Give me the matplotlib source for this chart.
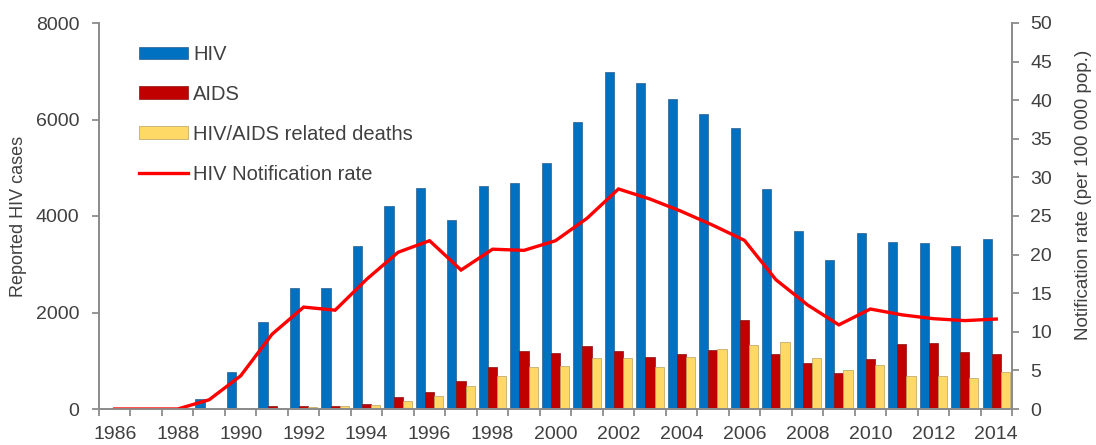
import matplotlib
matplotlib.use("Agg")
import matplotlib.pyplot as plt
import numpy as np

plt.rcParams['font.family'] = ['Liberation Sans', 'DejaVu Sans']

years = list(range(1986, 2015))

# reported HIV cases
hiv = [0, 0, 0, 200, 770, 1800, 2510, 2510, 3380, 4200, 4590, 3920, 4620, 4690,
       5090, 5940, 6980, 6760, 6420, 6110, 5820, 4560, 3690, 3080, 3650, 3470,
       3440, 3380, 3520]
aids = [0, 0, 0, 5, 15, 55, 70, 70, 100, 240, 350, 570, 870, 1200,
        1170, 1300, 1200, 1080, 1150, 1230, 1850, 1130, 950, 750, 1040, 1340,
        1360, 1190, 1150]
deaths = [0, 0, 0, 10, 10, 15, 45, 60, 80, 165, 270, 470, 680, 870,
          900, 1060, 1055, 880, 1080, 1250, 1330, 1380, 1050, 815, 910, 685,
          690, 650, 760]
# notification rate per 100 000
rate = [0, 0, 0, 1.2, 4.3, 9.7, 13.2, 12.8, 16.8, 20.3, 21.8, 18.0, 20.7, 20.55,
        21.8, 24.7, 28.5, 27.2, 25.6, 23.8, 21.85, 16.75, 13.5, 10.9, 12.95, 12.2,
        11.7, 11.45, 11.65]

TXT = '#404040'
SPINE = '#8c8c8c'
FS = 14

fig = plt.figure(figsize=(10.96, 4.45), dpi=100)
ax = fig.add_axes([99/1096, 36/445, 913/1096, 386/445])
ax2 = ax.twinx()

x = np.arange(len(years))
w = 0.29
b1 = ax.bar(x - w, hiv, w, color='#0070C0', edgecolor='#2d5d8a', linewidth=0.5, label='HIV')
b2 = ax.bar(x, aids, w, color='#C00000', edgecolor='#8a1010', linewidth=0.5, label='AIDS')
b3 = ax.bar(x + w, deaths, w, color='#FFD966', edgecolor='#b8a060', linewidth=0.5,
            label='HIV/AIDS related deaths')
l1, = ax2.plot(x, rate, color='#FF0000', lw=2.4, solid_joinstyle='miter',
               label='HIV Notification rate')

ax.set_xlim(-0.5, len(years) - 0.5)
ax.set_ylim(0, 8000)
ax2.set_ylim(0, 50)
ax.set_yticks(range(0, 8001, 2000))
ax2.set_yticks(range(0, 51, 5))

ax.set_xticks(x[::2])
ax.set_xticklabels([str(y) for y in years[::2]])
ax.set_xticks(np.arange(-0.5, len(years), 1), minor=True)
ax.tick_params(axis='x', which='major', length=0, pad=12)
ax.tick_params(axis='x', which='minor', length=5, width=1.3, color=SPINE)
ax.tick_params(axis='both', which='major', labelsize=FS, labelcolor=TXT)
ax.tick_params(axis='y', length=5, width=1.3, color=SPINE, pad=9)
ax2.tick_params(axis='y', length=5, width=1.3, color=SPINE, labelsize=FS,
                labelcolor=TXT, pad=8)

for a in (ax, ax2):
    a.spines['top'].set_visible(False)
    for s in ('left', 'right', 'bottom'):
        a.spines[s].set_color(SPINE)
        a.spines[s].set_linewidth(1.3)

ax.set_ylabel('Reported HIV cases', fontsize=13, color=TXT)
ax.yaxis.set_label_coords(-72/913, 0.5)
ax2.set_ylabel('Notification rate (per 100 000 pop.)', fontsize=13.6, color=TXT)
ax2.yaxis.set_label_coords(1 + 63/913, 0.555)

fig.legend([b1, b2, b3, l1], [b1.get_label(), b2.get_label(), b3.get_label(), l1.get_label()],
           loc='upper left', bbox_to_anchor=(139/1096, 1 - 45/445), frameon=False,
           fontsize=14.5, handlelength=2.45, handleheight=0.6, handletextpad=0.25,
           labelspacing=1.04, borderpad=0, borderaxespad=0, labelcolor=TXT)

fig.savefig('out.png', dpi=100)
